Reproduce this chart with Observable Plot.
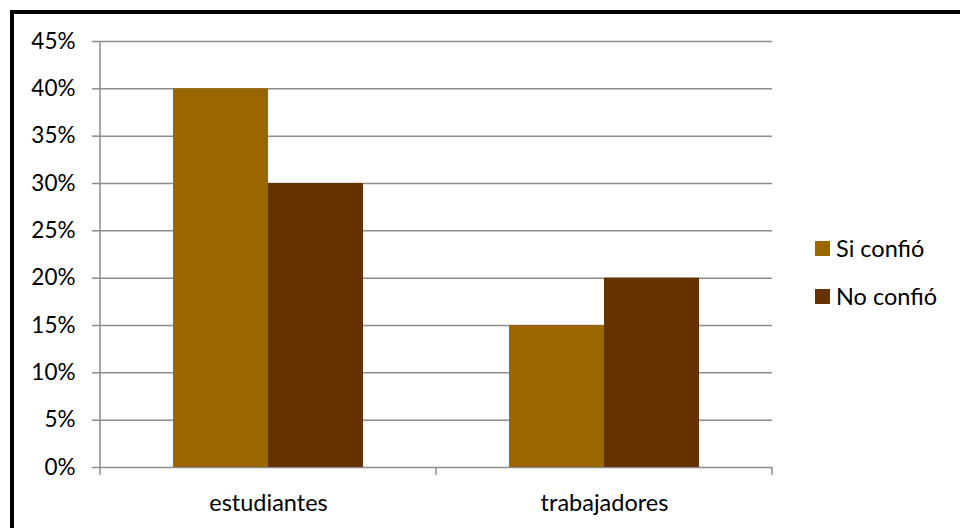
<!DOCTYPE html>
<html>
<head>
<meta charset="utf-8">
<script src="https://cdn.jsdelivr.net/npm/d3@7"></script>
<script src="https://cdn.jsdelivr.net/npm/@observablehq/plot@0.6"></script>
<style>
  html, body { margin: 0; padding: 0; background: #fff; }
  #wrap { position: relative; width: 960px; height: 528px; overflow: hidden; font-family: Lato, "Open Sans", sans-serif; }
  #frame { position: absolute; left: 10px; top: 10px; width: 1000px; height: 600px; border-top: 4px solid #000; border-left: 4px solid #000; box-sizing: border-box; }
  #chart { position: absolute; left: 0; top: 0; }
  #legend { position: absolute; left: 815px; top: 236px; font-size: 23.5px; color: #000; }
  .item { display: flex; align-items: center; height: 24px; margin-bottom: 24px; }
  .sw { width: 15px; height: 15px; margin-right: 6px; }
</style>
</head>
<body>
<div id="wrap">
  <div id="frame"></div>
  <div id="chart"></div>
  <div id="legend"></div>
</div>
<script>
const categories = ["estudiantes", "trabajadores"];
const series = ["Si confió", "No confió"];
const siConfio = [0.40, 0.15];
const noConfio = [0.30, 0.20];
const yTicks = [0, 0.05, 0.10, 0.15, 0.20, 0.25, 0.30, 0.35, 0.40, 0.45];
const colors = ["#996600", "#663300"];

const data = [];
categories.forEach((c, i) => {
  data.push({category: c, series: series[0], value: siConfio[i]});
  data.push({category: c, series: series[1], value: noConfio[i]});
});

const font = "Lato, 'Open Sans', sans-serif";
const gridColor = "#8c8c8c";

const chart = Plot.plot({
  width: 960,
  height: 528,
  marginLeft: 100,
  marginRight: 188,
  marginTop: 41,
  marginBottom: 61,
  style: {fontFamily: font, fontSize: "22px", color: "#000", background: "transparent"},
  fx: {domain: categories, padding: 0, label: null, axis: null},
  x: {domain: series, paddingInner: 0, paddingOuter: 0.759, axis: null},
  y: {domain: [0, 0.45], label: null},
  color: {domain: series, range: colors},
  marks: [
    Plot.gridY(yTicks, {stroke: gridColor, strokeOpacity: 1, strokeWidth: 1.5}),
    Plot.axisY(yTicks, {tickFormat: d3.format(".0%"), tickSize: 8, tickPadding: 17, stroke: gridColor, strokeWidth: 1.5, fill: "#000", fontSize: 22.5, label: null}),
    Plot.barY(data, {fx: "category", x: "series", y: "value", fill: "series"}),
    Plot.axisFx({anchor: "bottom", tickSize: 0, tickPadding: 27, fontSize: 23.5, fill: "#000", label: null})
  ]
});

document.getElementById("chart").appendChild(chart);

// axis line and category boundary ticks, derived from the plot's scales
const fx = chart.scale("fx");
const y = chart.scale("y");
const svg = d3.select(chart);
const g = svg.append("g").attr("stroke", gridColor).attr("stroke-width", 1.5);
const left = fx.apply(categories[0]);
g.append("line")
  .attr("x1", left).attr("x2", left)
  .attr("y1", y.apply(0.45)).attr("y2", y.apply(0) + 8);
categories.forEach(c => {
  const xr = fx.apply(c) + fx.bandwidth;
  g.append("line")
    .attr("x1", xr).attr("x2", xr)
    .attr("y1", y.apply(0)).attr("y2", y.apply(0) + 8);
});

const legend = d3.select("#legend");
series.forEach((s, i) => {
  const it = legend.append("div").attr("class", "item");
  it.append("div").attr("class", "sw").style("background", colors[i]);
  it.append("span").text(s);
});
</script>
</body>
</html>
